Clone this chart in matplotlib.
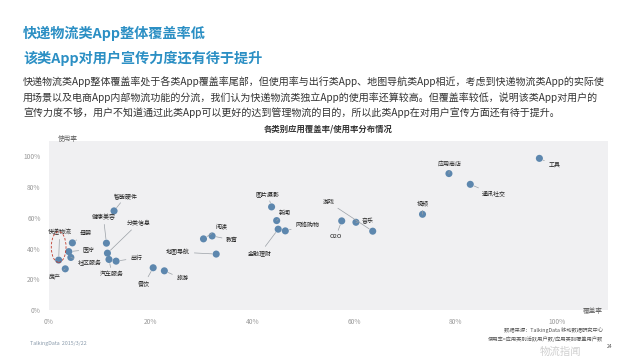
import matplotlib
matplotlib.use("Agg")
import matplotlib.pyplot as plt
from matplotlib.patches import Ellipse

plt.rcParams['font.family'] = ['Noto Sans CJK SC', 'DejaVu Sans']

# ---- data ----
categories = ["工具", "应用商店", "通讯社交", "视频", "游戏", "音乐", "O2O",
              "图片摄影", "新闻", "网络购物", "金融理财", "教育", "阅读", "地图导航",
              "餐饮", "旅游", "智能硬件", "健康美容", "分类信息", "汽车服务", "出行",
              "母婴", "医疗", "社区服务", "快递物流", "房产"]
coverage = [96.5, 78.7, 82.9, 73.5, 63.7, 60.4, 57.6,
            43.8, 44.8, 46.5, 45.1, 32.1, 30.4, 32.9,
            20.5, 22.7, 12.8, 11.3, 11.5, 11.8, 13.2,
            4.6, 3.9, 4.3, 1.9, 3.2]
usage = [98.7, 88.8, 81.8, 62.3, 51.3, 57.1, 58.0,
         67.1, 58.2, 51.5, 52.6, 48.2, 46.3, 36.4,
         27.5, 25.5, 64.5, 43.5, 37.0, 32.9, 31.8,
         43.7, 38.0, 34.2, 32.5, 26.8]
x_ticks = [0, 20, 40, 60, 80, 100]
y_ticks = [0, 20, 40, 60, 80, 100]

# label offsets in pixels (layout, not data)
label_offsets = {
    "工具": (15, -7), "应用商店": (1, 10), "通讯社交": (23, -10), "视频": (0, 11),
    "游戏": (-44, 29), "音乐": (12, 1), "O2O": (-6, -16), "图片摄影": (-4, 13),
    "新闻": (8, 8), "网络购物": (22, 6), "金融理财": (-18, -24), "教育": (20, -4),
    "阅读": (18, 12), "地图导航": (-38, 2), "餐饮": (-9, -16), "旅游": (18, -8),
    "智能硬件": (12, 15), "健康美容": (-3, 26), "分类信息": (31, 30),
    "汽车服务": (3, -15), "出行": (20, 3), "母婴": (13, 9), "医疗": (20, 2),
    "社区服务": (19, -6), "快递物流": (1, 28), "房产": (-10, -8),
}

fig = plt.figure(figsize=(6.4, 3.6), dpi=100)
fig.patch.set_facecolor("white")

# titles and body text
title_color = "#2b8fc4"
fig.text(23/640, 1-33/360, "快递物流类App整体覆盖率低", fontsize=10.2, fontweight="bold",
         color=title_color, va="center", ha="left")
fig.text(23/640, 1-58/360, "该类App对用户宣传力度还有待于提升", fontsize=10.2, fontweight="bold",
         color=title_color, va="center", ha="left")
body = ["快递物流类App整体覆盖率处于各类App覆盖率尾部，但使用率与出行类App、地图导航类App相近，考虑到快递物流类App的实际使",
        "用场景以及电商App内部物流功能的分流，我们认为快递物流类独立App的使用率还算较高。但覆盖率较低，说明该类App对用户的",
        "宣传力度不够，用户不知道通过此类App可以更好的达到管理物流的目的，所以此类App在对用户宣传方面还有待于提升。"]
for i, line in enumerate(body):
    fig.text(23/640, 1-(82+15.5*i)/360, line, fontsize=7.2, color="#333333",
             va="center", ha="left")

fig.text(328/640, 1-129/360, "各类别应用覆盖率/使用率分布情况", fontsize=6.0,
         fontweight="bold", color="#333333", ha="center", va="center")

ax = fig.add_axes([49/640, 50/360, 559/640, 169/360])
ax.set_facecolor("#f0f0f2")
for s in ax.spines.values():
    s.set_visible(False)
ax.set_xlim(0, 110)
ax.set_ylim(0, 110)
ax.set_xticks(x_ticks)
ax.set_xticklabels([f"{v}%" for v in x_ticks])
ax.set_yticks(y_ticks)
ax.set_yticklabels([f"{v}%" for v in y_ticks])
ax.tick_params(length=0, labelsize=4.8, colors="#9a9a9a", pad=6)

ax.scatter(coverage, usage, s=26, color="#5d87ae", zorder=3, edgecolors="none")

for name, cx, cy in zip(categories, coverage, usage):
    dx, dy = label_offsets[name]
    ax.annotate(name, (cx, cy), xytext=(dx, dy), textcoords="offset pixels",
                fontsize=4.3, color="#222222", ha="center", va="center",
                arrowprops=dict(arrowstyle="-", color="#9aa0a6", lw=0.5,
                                shrinkA=1, shrinkB=3))

# red dashed ellipse highlighting express logistics
ax.add_patch(Ellipse((1.9, 41.0), 2.9, 20, angle=0, fill=False, ls=(0, (3, 2)),
                     ec="#c0392b", lw=0.6, zorder=4))

fig.text(68/640, 1-139/360, "使用率", fontsize=4.8, color="#666666", ha="center", va="center")
fig.text(603/640, 1-311/360, "覆盖率", fontsize=4.8, color="#666666", ha="right", va="center")

# footer notes
fig.text(603/640, 1-330/360, "数据来源：TalkingData 移动数据研究中心", fontsize=3.8,
         color="#555555", ha="right", va="center", style="italic")
fig.text(603/640, 1-339/360, "使用率=应用类别活跃用户数/应用类别覆盖用户数", fontsize=3.8,
         color="#555555", ha="right", va="center", style="italic")
fig.text(612/640, 1-346/360, "24", fontsize=3.6, color="#555555", ha="right", va="center")
fig.text(30/640, 1-343/360, "TalkingData  2015/3/22", fontsize=3.8, color="#8899aa",
         ha="left", va="center")
fig.text(560/640, 1-352/360, "物流指闻", fontsize=7.5, color="#cfcfcf", ha="center",
         va="center")

fig.savefig("out.png", dpi=100)
